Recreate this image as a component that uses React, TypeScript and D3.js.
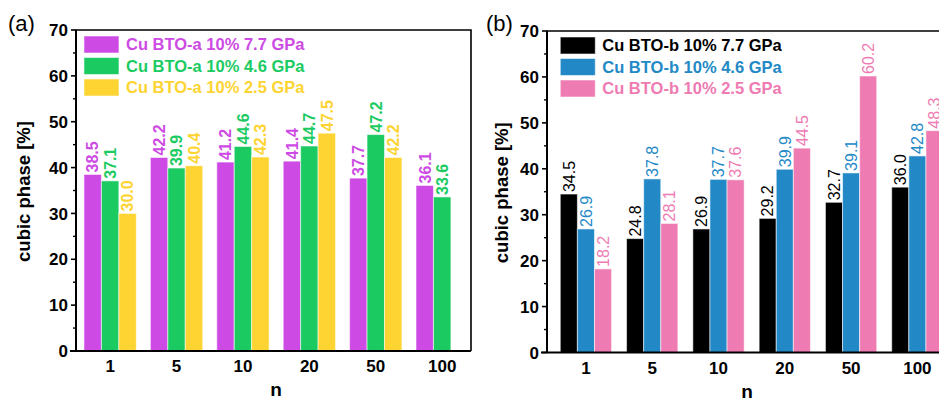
import React, { useEffect, useRef } from 'react';
import * as d3 from 'd3';

const categories = ['1', '5', '10', '20', '50', '100'];

// panel (a)
const seriesNamesA = ['Cu BTO-a 10% 7.7 GPa', 'Cu BTO-a 10% 4.6 GPa', 'Cu BTO-a 10% 2.5 GPa'];
const a77 = [38.5, 42.2, 41.2, 41.4, 37.7, 36.1];
const a46 = [37.1, 39.9, 44.6, 44.7, 47.2, 33.6];
const a25 = [30.0, 40.4, 42.3, 47.5, 42.2, null];
const colorsA = ['#CD4BE4', '#1BCB62', '#FDD431'];

// panel (b)
const seriesNamesB = ['Cu BTO-b 10% 7.7 GPa', 'Cu BTO-b 10% 4.6 GPa', 'Cu BTO-b 10% 2.5 GPa'];
const b77 = [34.5, 24.8, 26.9, 29.2, 32.7, 36.0];
const b46 = [26.9, 37.8, 37.7, 39.9, 39.1, 42.8];
const b25 = [18.2, 28.1, 37.6, 44.5, 60.2, 48.3];
const colorsB = ['#000000', '#2389C6', '#EE7BB2'];

const yTicks = [0, 10, 20, 30, 40, 50, 60, 70];
const yMinorTicks = [5, 15, 25, 35, 45, 55, 65];

const FONT = '"Liberation Sans", Arial, sans-serif';

interface PanelCfg {
  tag: string;
  x0: number;
  x1: number;
  y0: number;
  y1: number;
  align: number;
  padInner: number;
  padOuter: number;
  names: string[];
  series: (number | null)[][];
  colors: string[];
  labelWeight: string;
  yLabelX: number;
  tagX: number;
}

const panels: PanelCfg[] = [
  {
    tag: '(a)', x0: 76, x1: 471, y0: 351, y1: 30, align: 0.75, padInner: 0.212, padOuter: 0.08,
    names: seriesNamesA, series: [a77, a46, a25], colors: colorsA, labelWeight: 'bold',
    yLabelX: 30, tagX: 8,
  },
  {
    tag: '(b)', x0: 547, x1: 947, y0: 352.5, y1: 31, align: 0.77, padInner: 0.226, padOuter: 0.13,
    names: seriesNamesB, series: [b77, b46, b25], colors: colorsB, labelWeight: 'normal',
    yLabelX: 508, tagX: 486,
  },
];

export default function App() {
  const svgRef = useRef<SVGSVGElement>(null);

  useEffect(() => {
    if (!svgRef.current) return;
    const svg = d3.select(svgRef.current);
    svg.selectAll('*').remove();

    panels.forEach(p => {
      const g = svg.append('g').attr('font-family', FONT);

      const x = d3.scaleBand<string>()
        .domain(categories)
        .range([p.x0, p.x1])
        .paddingInner(p.padInner)
        .paddingOuter(p.padOuter)
        .align(p.align);

      const xSub = d3.scaleBand<number>()
        .domain([0, 1, 2])
        .range([0, x.bandwidth()]);

      const y = d3.scaleLinear().domain([0, 70]).range([p.y0, p.y1]);

      // bars
      p.series.forEach((vals, si) => {
        g.append('g')
          .selectAll('rect')
          .data(vals.map((v, i) => ({ v, c: categories[i] })).filter(d => d.v != null))
          .join('rect')
          .attr('x', d => x(d.c)! + xSub(si)!)
          .attr('width', xSub.bandwidth())
          .attr('y', d => y(d.v as number))
          .attr('height', d => y(0) - y(d.v as number))
          .attr('fill', p.colors[si])
          .attr('stroke', '#fff')
          .attr('stroke-opacity', 0.55)
          .attr('stroke-width', 1);
      });

      // value labels
      p.series.forEach((vals, si) => {
        g.append('g')
          .selectAll('text')
          .data(vals.map((v, i) => ({ v, c: categories[i] })).filter(d => d.v != null))
          .join('text')
          .attr('transform', d =>
            `translate(${x(d.c)! + xSub(si)! + xSub.bandwidth() / 2},${y(d.v as number) - 2}) rotate(-90)`)
          .attr('dy', '0.36em')
          .attr('font-size', 16)
          .attr('font-weight', p.labelWeight)
          .attr('fill', p.colors[si])
          .text(d => (d.v as number).toFixed(1));
      });

      // frame
      g.append('path')
        .attr('d', `M${p.x0},${p.y0}V${p.y1}H${p.x1}V${p.y0}`)
        .attr('fill', 'none')
        .attr('stroke', '#000')
        .attr('stroke-width', 1.6);

      // x axis
      g.append('line')
        .attr('x1', p.x0 - 6).attr('x2', p.x1)
        .attr('y1', p.y0).attr('y2', p.y0)
        .attr('stroke', '#000').attr('stroke-width', 2);

      g.append('g')
        .selectAll('text')
        .data(categories)
        .join('text')
        .attr('x', d => x(d)! + x.bandwidth() / 2)
        .attr('y', p.y0 + 21)
        .attr('text-anchor', 'middle')
        .attr('font-size', 17)
        .attr('font-weight', 'bold')
        .text(d => d);

      // y axis
      g.append('line')
        .attr('x1', p.x0).attr('x2', p.x0)
        .attr('y1', p.y0).attr('y2', p.y1)
        .attr('stroke', '#000').attr('stroke-width', 2);

      g.append('g')
        .selectAll('line')
        .data(yTicks)
        .join('line')
        .attr('x1', p.x0 - 5).attr('x2', p.x0)
        .attr('y1', d => y(d)).attr('y2', d => y(d))
        .attr('stroke', '#000').attr('stroke-width', 1.6);

      g.append('g')
        .selectAll('line')
        .data(yMinorTicks)
        .join('line')
        .attr('x1', p.x0 - 3).attr('x2', p.x0)
        .attr('y1', d => y(d)).attr('y2', d => y(d))
        .attr('stroke', '#000').attr('stroke-width', 1.4);

      g.append('g')
        .selectAll('text')
        .data(yTicks)
        .join('text')
        .attr('x', p.x0 - 8)
        .attr('y', d => y(d))
        .attr('dy', '0.36em')
        .attr('text-anchor', 'end')
        .attr('font-size', 17)
        .attr('font-weight', 'bold')
        .text(d => d);

      // axis titles
      g.append('text')
        .attr('x', (p.x0 + (p.x0 + 400)) / 2)
        .attr('y', p.y0 + 45)
        .attr('text-anchor', 'middle')
        .attr('font-size', 19)
        .attr('font-weight', 'bold')
        .text('n');

      g.append('text')
        .attr('transform', `translate(${p.yLabelX},${(p.y0 + p.y1) / 2 + 1}) rotate(-90)`)
        .attr('text-anchor', 'middle')
        .attr('font-size', 18.5)
        .attr('font-weight', 'bold')
        .text('cubic phase [%]');

      // panel tag
      g.append('text')
        .attr('x', p.tagX)
        .attr('y', 31)
        .attr('font-size', 22)
        .text(p.tag);

      // legend
      const lg = g.append('g')
        .attr('transform', `translate(${x(categories[0])!},${p.y1 + 6})`);
      const row = lg.selectAll('g')
        .data(p.names)
        .join('g')
        .attr('transform', (_, i) => `translate(0,${i * 21.5})`);
      row.append('rect')
        .attr('width', 35).attr('height', 17)
        .attr('fill', (_, i) => p.colors[i])
        .attr('stroke', '#fff').attr('stroke-opacity', 0.55).attr('stroke-width', 1);
      row.append('text')
        .attr('x', 42)
        .attr('y', 8.5)
        .attr('dy', '0.36em')
        .attr('font-size', 16.5)
        .attr('font-weight', 'bold')
        .attr('fill', (_, i) => p.colors[i])
        .text(d => d);
    });
  }, []);

  return (
    <svg
      ref={svgRef}
      width={939}
      height={399}
      style={{ position: 'absolute', left: 0, top: 0, background: '#fff' }}
    />
  );
}
